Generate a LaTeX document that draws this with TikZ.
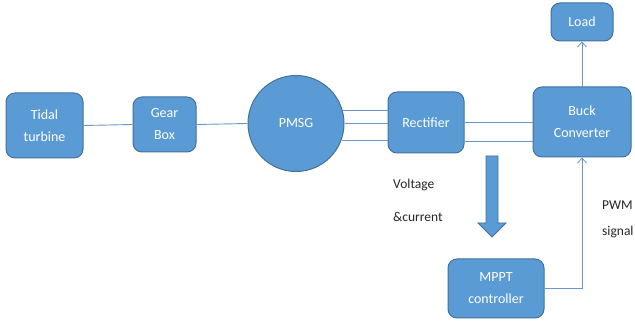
\documentclass[tikz,border=0pt]{standalone}
\usepackage{fontspec}
\setmainfont{Carlito}
\usetikzlibrary{arrows.meta,calc}
\definecolor{boxfill}{HTML}{5B9BD5}
\definecolor{boxline}{HTML}{41719C}
\definecolor{wire}{HTML}{6A97C8}
\begin{document}
\begin{tikzpicture}[x=1pt,y=-1pt,
  blk/.style={draw=boxline,line width=1pt,fill=boxfill,rounded corners=9pt,
    text=white,align=center,inner sep=0pt,font=\fontsize{14}{22}\selectfont},
  wireline/.style={draw=wire,line width=0.9pt},
  barb/.style={wireline,-{Straight Barb[length=5pt,width=9pt,line width=0.8pt]}},
  lbl/.style={anchor=west,inner sep=0pt,font=\fontsize{13.5}{15}\selectfont,text=black!85}]
\useasboundingbox (0,0) rectangle (635,323);
\fill[white] (0,0) rectangle (635,323);
\node[blk,minimum width=77pt,minimum height=65pt] (tidal) at (44.5,125.5) {Tidal\\turbine};
\node[blk,minimum width=63pt,minimum height=55pt] (gear) at (164.5,124.5) {Gear\\Box};
\node[blk,circle,minimum size=96pt] (pmsg) at (296,123.5) {PMSG};
\node[blk,minimum width=76pt,minimum height=61pt] (rect) at (426,122.5) {Rectifier};
\node[blk,minimum width=98pt,minimum height=70pt] (buck) at (582,122) {Buck\\Converter};
\node[blk,minimum width=62pt,minimum height=38pt] (load) at (582,22) {Load};
\node[blk,minimum width=96pt,minimum height=59pt] (mppt) at (496,288.5) {MPPT\\controller};
\draw[wireline] (tidal.east) -- (gear.west);
\draw[wireline] (gear.east) -- (pmsg.west);
\draw[wireline] (pmsg.15) -- (pmsg.15 -| rect.west);
\draw[wireline] (pmsg.east) -- (pmsg.east -| rect.west);
\draw[wireline] (pmsg.-20) -- (pmsg.-20 -| rect.west);
\draw[wireline] (rect.east) -- (rect.east -| buck.west);
\coordinate (r2) at ($(rect.east)+(0,19)$);
\draw[wireline] (r2) -- (r2 -| buck.west);
\draw[barb] (buck.north) -- (load.south);
\draw[barb] (mppt.east) -| (buck.south);
\filldraw[fill=boxfill,draw=boxline,line width=0.8pt]
  (486,156) -- (498,156) -- (498,223) -- (506,223) -- (492,237) -- (478,223) -- (486,223) -- cycle;
\node[lbl] (volt) at (393,185) {Voltage};
\node[lbl] (curr) at (393,217) {\&current};
\node[lbl] (pwm) at (602,205) {PWM};
\node[lbl] (sig) at (602,232) {signal};
\end{tikzpicture}
\end{document}
